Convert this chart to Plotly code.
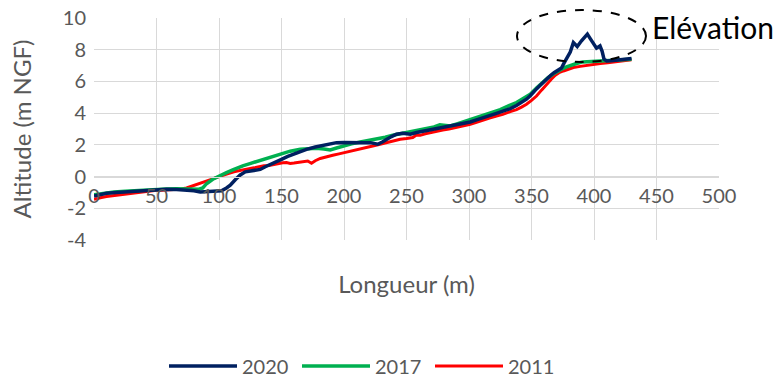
import plotly.graph_objects as go

# ---- data ----
x_2020 = [0, 5, 10, 18, 26, 34, 42, 50, 58, 66, 74, 80, 85, 92, 98, 102, 106, 109, 113, 117,
          121, 125, 130, 133, 137, 141, 146, 150, 155, 160, 165, 170, 177, 183, 189, 194, 200,
          205, 210, 213, 217, 221, 224, 227, 231, 234, 238, 242, 247, 250, 253, 258, 263, 269,
          274, 279, 285, 290, 295, 301, 306, 311, 317, 322, 327, 333, 338, 343, 346, 349, 351,
          354, 357, 360, 362, 365, 368, 371, 374, 376, 379, 381, 383.5, 386.6, 390, 392.5, 394.7,
          397, 399.5, 402, 404.8, 406.5, 408, 410.2, 415.5, 420, 423.5, 427, 430]
y_2020 = [-1.22, -1.12, -1.05, -1.0, -0.95, -0.9, -0.86, -0.83, -0.8, -0.82, -0.85, -0.9, -0.97,
          -0.95, -0.93, -0.9, -0.72, -0.55, -0.2, 0.1, 0.3, 0.36, 0.4, 0.45, 0.62, 0.78, 0.95,
          1.09, 1.27, 1.42, 1.58, 1.72, 1.86, 1.97, 2.07, 2.14, 2.15, 2.14, 2.1, 2.1, 2.13, 2.14,
          2.1, 2.04, 2.2, 2.35, 2.52, 2.67, 2.73, 2.7, 2.67, 2.78, 2.86, 2.94, 3.01, 3.09, 3.16,
          3.24, 3.33, 3.44, 3.57, 3.72, 3.86, 3.99, 4.12, 4.29, 4.48, 4.7, 4.88, 5.1, 5.3, 5.53,
          5.76, 6.0, 6.18, 6.36, 6.55, 6.7, 6.85, 7.15, 7.6, 7.85, 8.45, 8.2, 8.56, 8.8, 8.98,
          8.7, 8.35, 8.1, 8.24, 7.9, 7.4, 7.29, 7.32, 7.36, 7.4, 7.42, 7.44]

x_2017 = [0, 8, 16, 25, 34, 42, 50, 58, 66, 74, 80, 84, 87, 90, 95, 100, 106, 111, 115, 119,
          124.7, 131, 138, 144, 150, 157, 165, 172, 178, 184, 189, 194, 199, 206, 213, 220, 226,
          233, 239, 246, 253, 260, 266, 272, 276.7, 280, 285, 291, 298, 305, 311, 318, 325, 332,
          338, 343, 349, 354, 359, 363, 367, 371, 374, 378, 381, 386, 391, 398, 405, 412, 418,
          424, 430]
y_2017 = [-1.15, -1.05, -0.98, -0.92, -0.87, -0.83, -0.8, -0.78, -0.77, -0.76, -0.77, -0.8, -0.72,
          -0.45, -0.17, 0.04, 0.25, 0.42, 0.57, 0.68, 0.82, 0.98, 1.14, 1.3, 1.45, 1.6, 1.72,
          1.77, 1.79, 1.74, 1.68, 1.8, 1.93, 2.06, 2.18, 2.27, 2.35, 2.48, 2.61, 2.71, 2.81,
          2.92, 3.03, 3.13, 3.26, 3.22, 3.19, 3.33, 3.51, 3.66, 3.82, 4.0, 4.22, 4.47, 4.67,
          4.9, 5.19, 5.58, 5.97, 6.22, 6.45, 6.65, 6.77, 6.92, 7.02, 7.13, 7.23, 7.27, 7.29,
          7.31, 7.34, 7.37, 7.4]

x_2011 = [0, 3, 6, 10, 14, 18, 22, 26, 30, 34, 38, 42, 46, 50, 54, 58, 62, 66, 70, 74, 78, 82,
          86, 90, 95, 100, 104, 108, 112, 116, 120, 124, 128, 132, 136, 140, 144, 148, 151, 154,
          157, 160, 164, 168, 171, 174, 177, 181, 186, 191, 196, 202, 207, 213, 218, 223, 228,
          234, 239, 245, 250, 255, 258, 261, 265, 269, 274, 279, 284, 290, 295, 301, 306, 311,
          317, 322, 327, 333, 338, 342, 346, 350, 354, 358, 362, 366, 369, 372, 375.5, 379,
          383.5, 389, 394, 399, 405, 411, 418, 424, 430]
y_2011 = [-1.43, -1.35, -1.32, -1.26, -1.22, -1.17, -1.12, -1.07, -1.03, -1.0, -0.95, -0.91,
          -0.9, -0.87, -0.86, -0.85, -0.83, -0.8, -0.78, -0.72, -0.62, -0.49, -0.4, -0.28, -0.15,
          0.0, 0.08, 0.2, 0.3, 0.38, 0.46, 0.5, 0.55, 0.62, 0.68, 0.7, 0.76, 0.85, 0.87, 0.88,
          0.83, 0.85, 0.9, 0.93, 0.98, 0.84, 1.0, 1.14, 1.22, 1.34, 1.43, 1.55, 1.64, 1.77, 1.84,
          1.93, 2.02, 2.14, 2.22, 2.35, 2.4, 2.46, 2.62, 2.6, 2.7, 2.78, 2.85, 2.94, 3.0, 3.09,
          3.18, 3.3, 3.42, 3.57, 3.7, 3.82, 3.92, 4.1, 4.22, 4.38, 4.56, 4.8, 5.08, 5.45, 5.82,
          6.15, 6.39, 6.55, 6.66, 6.77, 6.88, 6.95, 7.02, 7.08, 7.13, 7.18, 7.23, 7.3, 7.36]

x_ticks = [0, 50, 100, 150, 200, 250, 300, 350, 400, 450, 500]
y_ticks = [-4, -2, 0, 2, 4, 6, 8, 10]
y_tick_labels = ["-4", "-2", "0", "2", "4", "6", "8", "10"]

FONT = "Lato"
GRAY = "#595959"
GRID = "#d9d9d9"

fig = go.Figure()
fig.add_trace(go.Scatter(x=x_2011, y=y_2011, mode="lines", name="2011",
                         line=dict(color="#ff0000", width=3)))
fig.add_trace(go.Scatter(x=x_2017, y=y_2017, mode="lines", name="2017",
                         line=dict(color="#00b050", width=3.5)))
fig.add_trace(go.Scatter(x=x_2020, y=y_2020, mode="lines", name="2020",
                         line=dict(color="#002060", width=3.5)))

# the page body margin is removed below (post_script), so the figure sits at 0,0
W, H = 781, 378
# plot area in page pixels: left 94, right 719, top 18, bottom 240
L, R, T, B = 94, W - 719, 18, H - 240
pw, ph = W - L - R, H - T - B


def px_x(p):
    return (p - L) / pw


def px_y(p):
    return (H - B - p) / ph


fig.update_layout(
    width=W, height=H,
    margin=dict(l=L, r=R, t=T, b=B, pad=0, autoexpand=False),
    paper_bgcolor="white", plot_bgcolor="white",
    font=dict(family=FONT, color=GRAY, size=20),
    showlegend=True,
    legend=dict(orientation="h", traceorder="reversed",
                x=px_x(164), xanchor="left", y=px_y(366), yanchor="middle",
                font=dict(family=FONT, size=20, color=GRAY),
                itemwidth=68, entrywidth=50, bgcolor="rgba(0,0,0,0)"),
    xaxis=dict(range=[0, 500], tickvals=x_ticks, showgrid=True, gridcolor=GRID, gridwidth=1,
               zeroline=False, showline=True, linecolor=GRID, linewidth=1,
               anchor="free", position=4 / 14, automargin=False,
               ticks="outside", ticklen=1, tickcolor="rgba(0,0,0,0)",
               ticklabeloverflow="allow",
               tickfont=dict(family=FONT, size=20, color=GRAY),
               title=dict(text="Longueur (m)", font=dict(family=FONT, size=24, color=GRAY),
                          standoff=70)),
    yaxis=dict(range=[-4, 10], tickvals=y_ticks, ticktext=y_tick_labels,
               showgrid=True, gridcolor=GRID, gridwidth=1,
               zeroline=False, showline=False, automargin=False,
               ticks="outside", ticklen=3, tickcolor="rgba(0,0,0,0)",
               ticklabeloverflow="allow",
               tickfont=dict(family=FONT, size=20, color=GRAY),
               title=dict(text="Altitude (m NGF)", font=dict(family=FONT, size=24, color=GRAY),
                          standoff=24)),
)

# dashed ellipse highlighting the elevation
fig.add_shape(type="circle", xref="paper", yref="paper",
              x0=px_x(517), x1=px_x(646), y0=px_y(62), y1=px_y(10),
              line=dict(color="black", width=2, dash="dash"), fillcolor="rgba(0,0,0,0)")
fig.add_annotation(text="Elévation", xref="paper", yref="paper", x=px_x(650), y=px_y(27),
                   xanchor="left", yanchor="middle", showarrow=False,
                   font=dict(family=FONT, size=30, color="black"))

fig.write_html("out.html",
               config={"displayModeBar": False},
               post_script="document.body.style.margin='0px';")
